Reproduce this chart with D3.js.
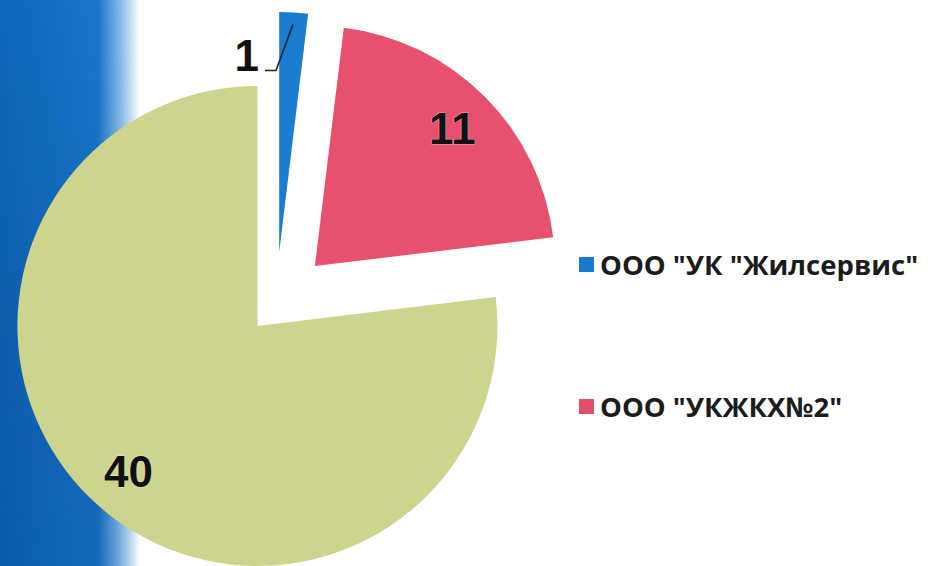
<!DOCTYPE html>
<html><head><meta charset="utf-8">
<script src="https://cdn.jsdelivr.net/npm/d3@7"></script>
<style>html,body{margin:0;padding:0;background:#fff;overflow:hidden}</style>
</head><body>
<svg id="chart" width="930" height="566"></svg>
<script>
// ---- data ----
const categories = ['ООО "УК "Жилсервис"', 'ООО "УКЖКХ№2"', 'прочие'];
const values = [1, 11, 40];
const legendLabels = ['ООО "УК "Жилсервис"', 'ООО "УКЖКХ№2"'];

// ---- style ----
const colors = ['#1b7dcf', '#e8506f', '#cdd48d'];
const legendColors = ['#1a7bcc', '#e24f6e'];
const explode = [53, 55, 28];
const W = 930, H = 566;
const cx = 276, cy = 305, R = 240;

const svg = d3.select('#chart');
const defs = svg.append('defs');
const grad = defs.append('linearGradient').attr('id', 'bg').attr('x1', 0).attr('x2', 1).attr('y1', 0).attr('y2', 0);
grad.append('stop').attr('offset', '0').attr('stop-color', '#0f66bb');
grad.append('stop').attr('offset', '0.7').attr('stop-color', '#1877cc');
grad.append('stop').attr('offset', '0.86').attr('stop-color', '#86bbe8');
grad.append('stop').attr('offset', '1').attr('stop-color', '#ffffff');
const vgrad = defs.append('linearGradient').attr('id', 'bgv').attr('x1', 0).attr('x2', 0).attr('y1', 0).attr('y2', 1);
vgrad.append('stop').attr('offset', '0').attr('stop-color', '#000').attr('stop-opacity', 0);
vgrad.append('stop').attr('offset', '1').attr('stop-color', '#002a66').attr('stop-opacity', 0.18);
const mask = defs.append('mask').attr('id', 'bgm');
const mg = defs.append('linearGradient').attr('id', 'mg').attr('x1', 0).attr('x2', 1);
mg.append('stop').attr('offset', '0.7').attr('stop-color', '#fff');
mg.append('stop').attr('offset', '1').attr('stop-color', '#000');
mask.append('rect').attr('width', 140).attr('height', H).attr('fill', 'url(#mg)');
svg.append('rect').attr('x', 0).attr('y', 0).attr('width', 140).attr('height', H).attr('fill', 'url(#bg)');
svg.append('rect').attr('x', 0).attr('y', 0).attr('width', 140).attr('height', H).attr('fill', 'url(#bgv)').attr('mask', 'url(#bgm)');

const pie = d3.pie().sort(null).value(d => d)(values);
const arc = d3.arc().innerRadius(0).outerRadius(R);
const labelArc = d3.arc().innerRadius(R * 0.81).outerRadius(R * 0.81);

function offset(d, i) {
  const m = (d.startAngle + d.endAngle) / 2;
  return [cx + explode[i] * Math.sin(m), cy - explode[i] * Math.cos(m)];
}

const order = [2, 1, 0];
const g = svg.append('g');
order.forEach(i => {
  const d = pie[i];
  const [ox, oy] = offset(d, i);
  const sg = g.append('g').attr('transform', `translate(${ox},${oy})`);
  sg.append('path').attr('d', arc(d)).attr('fill', colors[i]);
});

const labelStyle = sel => sel
  .attr('font-family', '"Liberation Sans", Arial, sans-serif')
  .attr('font-weight', 700)
  .attr('font-size', 44)
  .attr('fill', '#111')
  .attr('stroke', 'rgba(255,255,255,0.5)')
  .attr('stroke-width', 1)
  .attr('paint-order', 'stroke');

// inside labels
[1, 2].forEach(i => {
  const d = pie[i];
  const [ox, oy] = offset(d, i);
  const [lx, ly] = labelArc.centroid(d);
  svg.append('text').call(labelStyle)
    .attr('x', ox + lx).attr('y', oy + ly)
    .attr('text-anchor', 'middle').attr('dominant-baseline', 'central')
    .text(values[i]);
});

// outside label for the small slice with leader line
{
  const i = 0, d = pie[i];
  const [ox, oy] = offset(d, i);
  const m = (d.startAngle + d.endAngle) / 2;
  const px = ox + R * 0.95 * Math.sin(m), py = oy - R * 0.95 * Math.cos(m);
  const ex = px - 17, ey = py + 46;
  svg.append('path')
    .attr('d', `M${px},${py}L${ex},${ey}L${ex - 11},${ey}`)
    .attr('fill', 'none').attr('stroke', '#222').attr('stroke-width', 1.6);
  svg.append('text').call(labelStyle)
    .attr('x', ex - 17).attr('y', ey)
    .attr('text-anchor', 'end')
    .text(values[i]);
}

// legend
const legend = svg.append('g');
legendLabels.forEach((t, i) => {
  const y = 264 + i * 142;
  legend.append('rect').attr('x', 579).attr('y', y - 7).attr('width', 15).attr('height', 15).attr('fill', legendColors[i]);
  legend.append('text')
    .attr('x', 600).attr('y', y).attr('dominant-baseline', 'central')
    .attr('font-family', '"Open Sans", sans-serif').attr('font-weight', 700)
    .attr('font-size', 27.5).attr('fill', '#1c1c1c')
    .text(t);
});
</script>
</body></html>
